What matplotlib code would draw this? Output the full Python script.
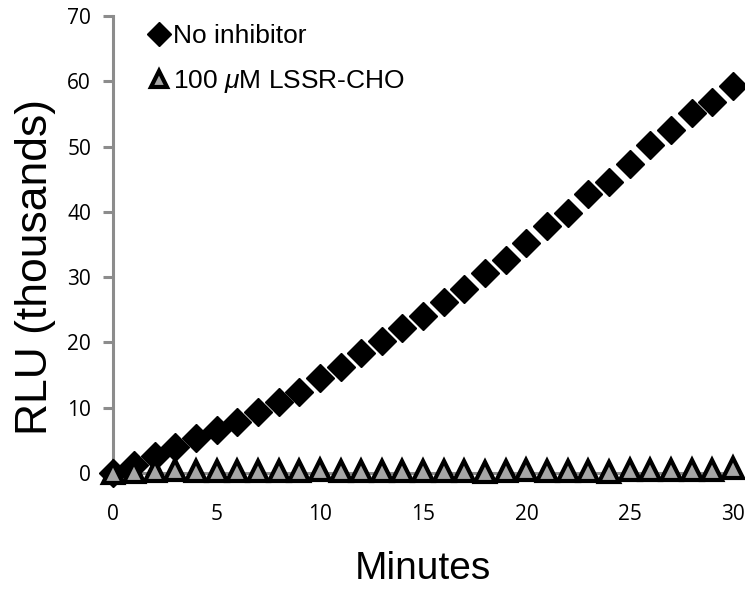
import matplotlib
matplotlib.use("Agg")
import matplotlib.pyplot as plt

# data
minutes = list(range(31))
no_inhibitor = [0.0, 1.3, 2.6, 4.0, 5.4, 6.6, 7.8, 9.4, 10.9, 12.4, 14.5,
                16.2, 18.4, 20.2, 22.2, 24.0, 26.2, 28.2, 30.7, 32.7, 35.3,
                37.8, 39.8, 42.8, 44.6, 47.4, 50.2, 52.6, 55.2, 56.9, 59.2]
lssr_cho = [0.0, 0.2, 0.3, 0.4, 0.3, 0.3, 0.3, 0.3, 0.3, 0.3, 0.4,
            0.3, 0.3, 0.3, 0.3, 0.3, 0.3, 0.3, 0.2, 0.3, 0.4,
            0.3, 0.3, 0.3, 0.2, 0.4, 0.4, 0.4, 0.4, 0.4, 0.7]

xticks = [0, 5, 10, 15, 20, 25, 30]
yticks = [0, 10, 20, 30, 40, 50, 60, 70]

plt.rcParams['font.family'] = ['Liberation Sans', 'DejaVu Sans']
plt.rcParams['mathtext.fontset'] = 'custom'
plt.rcParams['mathtext.it'] = 'Liberation Sans:italic'
plt.rcParams['mathtext.rm'] = 'Liberation Sans'

fig = plt.figure(figsize=(7.45, 5.92), dpi=100)
ax = fig.add_axes([0.152, 0.201, 0.832, 0.772])

grey = '#8c8c8c'

ax.plot(minutes, no_inhibitor, linestyle='none', marker='D', markersize=14,
        color='black', markeredgecolor='black', markeredgewidth=1,
        label='No inhibitor', clip_on=False, zorder=3)
ax.plot(minutes, lssr_cho, linestyle='none', marker='^', markersize=14,
        markerfacecolor='#a6a6a6', markeredgecolor='black', markeredgewidth=3,
        label='100 $\\mathit{\\mu}$M LSSR-CHO', clip_on=False, zorder=4)

ax.set_xlim(0, 30)
ax.set_ylim(0, 70)
ax.set_xticks(xticks)
ax.set_yticks(yticks)

for s in ['top', 'right']:
    ax.spines[s].set_visible(False)
ax.spines['left'].set_color(grey)
ax.spines['left'].set_linewidth(2.2)
ax.spines['bottom'].set_color(grey)
ax.spines['bottom'].set_linewidth(2.2)

ax.tick_params(axis='y', direction='out', length=7, width=2.2, color=grey,
               pad=9, labelsize=15, labelfontfamily='Open Sans')
ax.tick_params(axis='x', length=0, pad=22, labelsize=15,
               labelfontfamily='Open Sans')

ax.set_ylabel('RLU (thousands)', fontsize=32)
ax.yaxis.set_label_coords(-0.092, 0.45)
ax.set_xlabel('Minutes', fontsize=28, labelpad=19)

leg = ax.legend(loc='upper left', bbox_to_anchor=(0.035, 1.005), frameon=False,
                fontsize=19, handletextpad=0.05, handlelength=1.0,
                labelspacing=0.75, borderaxespad=0)
for h in leg.legend_handles:
    h.set_markersize(12)

fig.savefig('out.png', dpi=100)
